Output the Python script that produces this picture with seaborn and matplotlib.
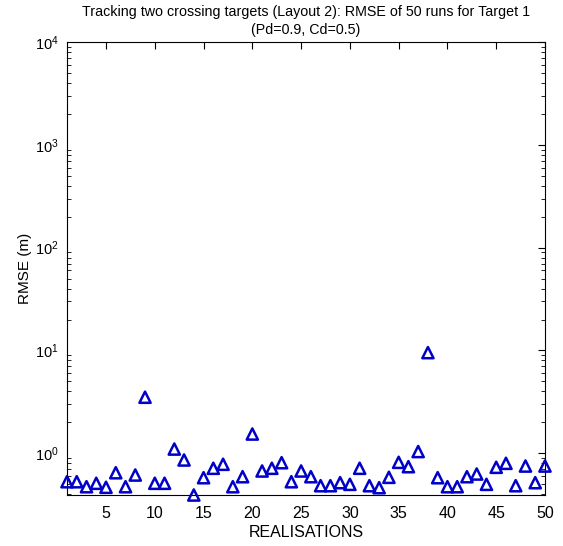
import numpy as np
import pandas as pd
import matplotlib
matplotlib.use("Agg")
import matplotlib.pyplot as plt
import seaborn as sns
from matplotlib.ticker import LogLocator, LogFormatterMathtext, FixedLocator, NullFormatter

# RMSE per realisation (metres)
realisations = list(range(1, 51))
rmse = [0.529, 0.529, 0.473, 0.511, 0.467, 0.647, 0.473, 0.615, 3.51, 0.511,
        0.511, 1.10, 0.861, 0.393, 0.579, 0.715, 0.782, 0.473, 0.592, 1.54,
        0.673, 0.715, 0.810, 0.529, 0.673, 0.592, 0.484, 0.484, 0.518, 0.499,
        0.715, 0.484, 0.463, 0.584, 0.817, 0.741, 1.04, 9.53, 0.579, 0.473,
        0.473, 0.592, 0.629, 0.499, 0.731, 0.799, 0.484, 0.752, 0.518, 0.752]
xticks = [5, 10, 15, 20, 25, 30, 35, 40, 45, 50]

sns.set_style("white")
plt.rcParams["font.family"] = ["Liberation Sans", "DejaVu Sans"]
plt.rcParams["mathtext.fontset"] = "custom"
plt.rcParams["mathtext.rm"] = "Liberation Sans"
plt.rcParams["mathtext.it"] = "Liberation Sans"
for key in ("text.color", "axes.labelcolor", "xtick.color", "ytick.color"):
    plt.rcParams[key] = "black"

df = pd.DataFrame({"realisation": realisations, "rmse": rmse})

fig = plt.figure(figsize=(5.63, 5.46), dpi=100)
ax = fig.add_axes([0.119, 0.0934, 0.849, 0.8297])

sns.scatterplot(data=df, x="realisation", y="rmse", ax=ax, marker="^", s=65,
                facecolor="none", edgecolor="#0000c8", linewidth=1.8,
                clip_on=False, zorder=3)

ax.set_yscale("log")
ax.set_xlim(1, 50)
ax.set_ylim(min(rmse), 1e4)

ax.xaxis.set_major_locator(FixedLocator(xticks))
ax.yaxis.set_major_locator(LogLocator(base=10, numticks=10))
ax.yaxis.set_major_formatter(LogFormatterMathtext())
ax.yaxis.set_minor_locator(LogLocator(base=10, subs=np.arange(2, 10), numticks=10))
ax.yaxis.set_minor_formatter(NullFormatter())

ax.tick_params(axis="both", which="major", direction="in", length=5, width=0.8,
               top=True, right=True, colors="black")
ax.tick_params(axis="x", which="major", pad=8, labelsize=11.5)
ax.tick_params(axis="y", which="major", pad=6, labelsize=10.5)
ax.tick_params(axis="y", which="minor", direction="in", length=3, width=0.6,
               left=True, right=True)
for s in ax.spines.values():
    s.set_color("black")
    s.set_linewidth(0.8)

ax.set_xlabel("REALISATIONS", fontsize=11.5, labelpad=3)
ax.set_ylabel("RMSE (m)", fontsize=11, labelpad=2)
ax.set_title("Tracking two crossing targets (Layout 2): RMSE of 50 runs for Target 1\n(Pd=0.9, Cd=0.5)",
             fontsize=10.3, pad=6, linespacing=1.3)

fig.savefig("out.png", dpi=100, facecolor="white")
